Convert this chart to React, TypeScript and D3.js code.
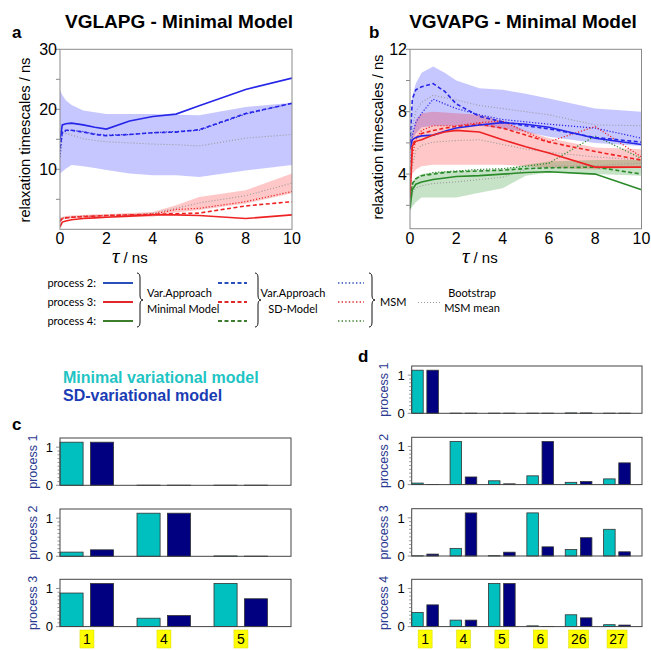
import React from "react";
import * as d3 from "d3";

const FONT = "'Liberation Sans', Arial, Helvetica, sans-serif";
const LEG_FONT = "Lato, 'Open Sans', sans-serif";

const TAU = [0, 0.1, 0.25, 0.5, 1, 1.5, 2, 3, 4, 5, 6, 8, 10];
const X_TICKS = [0, 2, 4, 6, 8, 10];

// Panel a — VGLAPG
const A_P2_VAR = [15.0, 17.4, 17.6, 17.7, 17.4, 17.0, 16.7, 18.05, 18.8, 19.2, 20.6, 23.3, 25.2];
const A_P2_SD = [13.5, 16.3, 16.5, 16.5, 16.2, 15.8, 15.6, 15.8, 16.1, 16.2, 16.6, 19.3, 21.0];
const A_P2_MSM = [12.0, 16.0, 16.4, 16.5, 16.3, 15.9, 15.7, 15.8, 16.1, 16.3, 16.5, 19.2, 21.0];
const A_P2_BOOT = [16.4, 16.2, 16.0, 15.7, 15.1, 14.8, 14.6, 14.4, 14.2, 14.1, 13.9, 15.2, 15.8];
const A_P2_HI = [23.2, 22.4, 21.5, 20.7, 19.8, 19.5, 19.2, 19.2, 19.2, 19.1, 19.0, 20.4, 21.1];
const A_P2_LO = [9.3, 9.6, 10.1, 10.7, 10.5, 10.2, 9.9, 9.3, 9.0, 9.0, 8.7, 9.8, 10.7];
const A_P3_VAR = [0.4, 1.2, 1.4, 1.6, 1.8, 1.9, 2.0, 2.2, 2.4, 2.4, 2.3, 1.8, 2.4];
const A_P3_SD = [1.3, 1.8, 1.9, 2.0, 2.1, 2.2, 2.3, 2.4, 2.5, 2.6, 2.7, 3.9, 4.6];
const A_P3_MSM = [1.5, 1.8, 1.9, 2.0, 2.2, 2.2, 2.3, 2.4, 2.5, 3.3, 3.5, 4.6, 6.3];
const A_P3_BOOT = [1.8, 1.9, 2.0, 2.1, 2.2, 2.2, 2.3, 2.4, 2.7, 3.5, 4.4, 5.6, 7.7];
const A_P3_HI = [2.0, 2.1, 2.2, 2.3, 2.4, 2.5, 2.5, 2.7, 2.9, 4.0, 5.4, 6.5, 9.3];
const A_P3_LO = [1.4, 1.6, 1.7, 1.8, 1.9, 1.9, 2.0, 2.0, 2.1, 2.8, 3.2, 4.3, 6.0];

// Panel b — VGVAPG
const B_P2_VAR = [5.6, 6.2, 6.35, 6.45, 6.5, 6.75, 6.95, 7.15, 7.3, 7.2, 7.0, 6.3, 5.9];
const B_P2_SD = [6.0, 8.8, 9.4, 9.6, 9.8, 9.3, 8.5, 7.7, 7.35, 7.1, 6.9, 6.35, 6.05];
const B_P2_MSM = [4.8, 6.5, 7.3, 7.9, 8.8, 8.5, 8.2, 7.8, 7.5, 7.35, 7.2, 6.95, 6.3];
const B_P2_BOOT = [5.5, 7.0, 8.0, 8.6, 9.05, 8.9, 8.75, 8.4, 8.2, 8.0, 7.8, 7.15, 7.1];
const B_P2_HI = [6.5, 9.0, 9.8, 10.5, 10.9, 10.5, 10.0, 9.5, 9.4, 9.15, 8.85, 8.2, 8.0];
const B_P2_LO = [5.8, 6.2, 6.6, 7.0, 7.1, 7.1, 7.1, 7.1, 6.9, 6.7, 6.4, 6.0, 5.8];
const B_P3_VAR = [2.5, 5.8, 6.1, 6.2, 6.5, 6.7, 6.8, 6.7, 6.2, 5.75, 5.35, 4.45, 4.45];
const B_P3_SD = [3.0, 5.8, 6.3, 6.6, 6.8, 6.95, 7.05, 7.2, 6.95, 6.5, 6.05, 5.45, 4.9];
const B_P3_MSM = [3.0, 5.2, 6.2, 6.8, 7.1, 7.1, 7.1, 7.3, 7.4, 6.7, 6.07, 7.05, 5.1];
const B_P3_BOOT = [3.0, 4.5, 5.5, 5.85, 6.05, 6.1, 6.15, 6.2, 5.9, 5.6, 5.4, 5.1, 4.9];
const B_P3_HI = [4.0, 6.5, 7.5, 7.9, 8.0, 7.95, 7.9, 7.8, 7.4, 6.8, 6.3, 5.7, 5.6];
const B_P3_LO = [3.0, 4.0, 4.3, 4.5, 4.6, 4.6, 4.6, 4.6, 4.6, 4.5, 4.4, 4.3, 4.4];
const B_P4_VAR = [1.8, 3.0, 3.35, 3.5, 3.65, 3.75, 3.85, 3.9, 4.0, 4.1, 4.15, 4.0, 3.0];
const B_P4_SD = [2.5, 3.4, 3.7, 3.9, 4.0, 4.1, 4.15, 4.2, 4.25, 4.35, 4.4, 4.45, 4.0];
const B_P4_MSM = [2.4, 3.3, 3.7, 3.9, 4.1, 4.15, 4.2, 4.3, 4.35, 4.5, 4.7, 6.45, 5.0];
const B_P4_BOOT = [2.3, 2.8, 3.1, 3.25, 3.4, 3.45, 3.5, 3.65, 3.8, 4.3, 4.5, 4.55, 4.7];
const B_P4_HI = [2.6, 3.5, 3.8, 4.0, 4.1, 4.15, 4.2, 4.25, 4.3, 4.6, 4.8, 4.9, 4.9];
const B_P4_LO = [1.6, 1.9, 2.2, 2.5, 2.5, 2.5, 2.5, 2.8, 3.1, 3.9, 4.1, 4.0, 3.9];

// Panel c — bars
const C_GROUPS = ["1", "4", "5"];
const C_P1_MIN = [1.13, 0.004, 0.004];
const C_P1_SD = [1.13, 0.004, 0.004];
const C_P2_MIN = [0.11, 1.13, 0.01];
const C_P2_SD = [0.17, 1.13, 0.005];
const C_P3_MIN = [0.88, 0.22, 1.13];
const C_P3_SD = [1.13, 0.29, 0.73];

// Panel d — bars
const D_GROUPS = ["1", "4", "5", "6", "26", "27"];
const D_P1_MIN = [1.13, 0.004, 0.004, 0.004, 0.01, 0.004];
const D_P1_SD = [1.13, 0.004, 0.004, 0.004, 0.01, 0.004];
const D_P2_MIN = [0.04, 1.13, 0.1, 0.23, 0.06, 0.15];
const D_P2_SD = [0.005, 0.2, 0.02, 1.13, 0.08, 0.57];
const D_P3_MIN = [0.005, 0.2, 0.01, 1.13, 0.17, 0.7];
const D_P3_SD = [0.05, 1.13, 0.1, 0.24, 0.48, 0.11];
const D_P4_MIN = [0.37, 0.17, 1.13, 0.02, 0.31, 0.05];
const D_P4_SD = [0.57, 0.17, 1.13, 0.005, 0.23, 0.04];

const BLUE = "#2626e8";
const RED = "#ee2222";
const GREEN = "#2a8a2a";
const GRAY = "#9a9a9a";
const LEG_BLUE = "#2850b8";
const LEG_RED = "#e02828";
const LEG_GREEN = "#3d7d2d";
const CYAN = "#00bfbf";
const NAVY = "#000080";
const PROC_COLOR = "#2b3990";

type Kind = "solid" | "dashed" | "dotted" | "boot";
const STYLES: Record<Kind, { w: number; dash?: string }> = {
  solid: { w: 1.6 },
  dashed: { w: 1.6, dash: "4,2.5" },
  dotted: { w: 1.2, dash: "1.2,1.8" },
  boot: { w: 1.1, dash: "1,2" },
};

type LineSpec = { v: number[]; color: string; kind: Kind };
type BandSpec = { hi: number[]; lo: number[]; color: string };

function LinePanel(props: {
  id: string;
  left: number; right: number; top: number; bottom: number;
  yDomain: [number, number];
  tickVals: number[]; labelVals: number[];
  bands: BandSpec[]; lines: LineSpec[];
  title: string; titleX: number; letter: string; letterX: number;
  ylabX: number; ylabY: number; xlabX: number;
}) {
  const { id, left, right, top, bottom, yDomain, tickVals, labelVals, bands, lines } = props;
  const x = d3.scaleLinear().domain([0, 10]).range([left, right]);
  const y = d3.scaleLinear().domain(yDomain).range([bottom, top]);
  const line = d3.line<number>().x((_, i) => x(TAU[i])).y((d) => y(d));
  const areaOf = (b: BandSpec) =>
    d3.area<number>().x((_, i) => x(TAU[i])).y0((_, i) => y(b.lo[i])).y1((d) => y(d))(b.hi) || "";
  const order: Kind[] = ["boot", "dotted", "dashed", "solid"];
  const sorted = [...lines].sort((a, b) => order.indexOf(a.kind) - order.indexOf(b.kind));
  return (
    <g>
      <defs>
        <clipPath id={id}>
          <rect x={left} y={top} width={right - left} height={bottom - top} />
        </clipPath>
      </defs>
      <text x={props.titleX} y={28} textAnchor="middle" fontFamily={FONT} fontWeight="bold" fontSize={19}>
        {props.title}
      </text>
      <text x={props.letterX} y={38} fontFamily={FONT} fontWeight="bold" fontSize={17}>
        {props.letter}
      </text>
      <g clipPath={`url(#${id})`}>
        {bands.map((b, i) => (
          <path key={i} d={areaOf(b)} fill={b.color} fillOpacity={0.22} stroke="none" />
        ))}
        {sorted.map((l, i) => (
          <path
            key={i}
            d={line(l.v) || ""}
            fill="none"
            stroke={l.kind === "boot" ? GRAY : l.color}
            strokeWidth={STYLES[l.kind].w}
            strokeDasharray={STYLES[l.kind].dash}
          />
        ))}
      </g>
      <rect x={left} y={top} width={right - left} height={bottom - top} fill="none" stroke="#8a8a8a" strokeWidth={1} />
      {tickVals.map((t) => (
        <line key={t} x1={left - 4} x2={left} y1={y(t)} y2={y(t)} stroke="#8a8a8a" strokeWidth={1} />
      ))}
      {labelVals.map((t) => (
        <text key={t} x={left - 3} y={y(t)} dy="0.36em" textAnchor="end" fontFamily={FONT} fontSize={16}>
          {t}
        </text>
      ))}
      {X_TICKS.map((t) => (
        <text key={t} x={x(t)} y={244} textAnchor="middle" fontFamily={FONT} fontSize={16}>
          {t}
        </text>
      ))}
      <text
        transform={`translate(${props.ylabX},${props.ylabY}) rotate(-90)`}
        textAnchor="middle"
        fontFamily={FONT}
        fontSize={14.7}
      >
        relaxation timescales / ns
      </text>
      <text x={props.xlabX} y={263} fontFamily={FONT} fontSize={15}>
        <tspan fontFamily="'Liberation Serif', 'DejaVu Serif', serif" fontStyle="italic" fontSize={21}>τ</tspan>
        <tspan dx={4}>/ ns</tspan>
      </text>
    </g>
  );
}

function Brace({ x, y0, y1, w }: { x: number; y0: number; y1: number; w: number }) {
  const ym = (y0 + y1) / 2;
  const xm = x + w / 2;
  const r = 5;
  const d = `M${x},${y0} Q${xm},${y0} ${xm},${y0 + r} L${xm},${ym - r} Q${xm},${ym} ${x + w},${ym} Q${xm},${ym} ${xm},${ym + r} L${xm},${y1 - r} Q${xm},${y1} ${x},${y1}`;
  return <path d={d} fill="none" stroke="#111" strokeWidth={1} />;
}

const LEG_ROWS = [
  { label: "process 2:", color: LEG_BLUE, y: 283 },
  { label: "process 3:", color: LEG_RED, y: 302 },
  { label: "process 4:", color: LEG_GREEN, y: 321 },
];

function Legend() {
  return (
    <g fontFamily={LEG_FONT} fontSize={11}>
      {LEG_ROWS.map((r) => (
        <g key={r.label}>
          <text x={96} y={r.y + 4} textAnchor="end">{r.label}</text>
          <line x1={103} x2={133} y1={r.y} y2={r.y} stroke={r.color} strokeWidth={2} />
          <line x1={218} x2={247} y1={r.y} y2={r.y} stroke={r.color} strokeWidth={1.8} strokeDasharray="4,2.5" />
          <line x1={338} x2={364} y1={r.y} y2={r.y} stroke={r.color} strokeWidth={1.4} strokeDasharray="1.4,2.2" />
        </g>
      ))}
      <Brace x={137} y0={273} y1={327} w={6} />
      <text x={147} y={297}>Var.Approach</text>
      <text x={147} y={313}>Minimal Model</text>
      <Brace x={255} y0={273} y1={327} w={6} />
      <text x={293} y={297} textAnchor="middle">Var.Approach</text>
      <text x={293} y={313} textAnchor="middle">SD-Model</text>
      <Brace x={369} y0={273} y1={327} w={6} />
      <text x={380} y={306}>MSM</text>
      <line x1={418} x2={440} y1={302.5} y2={302.5} stroke={GRAY} strokeWidth={1.2} strokeDasharray="1,2" />
      <text x={472} y={297} textAnchor="middle">Bootstrap</text>
      <text x={472} y={312} textAnchor="middle">MSM mean</text>
    </g>
  );
}

type BarRow = { name: string; min: number[]; sd: number[] };

function BarPanel(props: {
  left: number; right: number; tops: number[]; rowH: number;
  groups: string[]; rows: BarRow[]; procX: number; letter: string; letterX: number; letterY: number;
}) {
  const { left, right, tops, rowH, groups, rows } = props;
  const xb = d3.scaleBand<string>().domain(groups).range([left, right]).padding(0);
  const bw = xb.bandwidth();
  const minorTicks = d3.range(0, 1.0001, 0.1);
  return (
    <g>
      <text x={props.letterX} y={props.letterY} fontFamily={FONT} fontWeight="bold" fontSize={17}>
        {props.letter}
      </text>
      {rows.map((row, ri) => {
        const top = tops[ri];
        const bottom = top + rowH;
        const y = d3.scaleLinear().domain([0, 1.24]).range([bottom, top]);
        return (
          <g key={row.name}>
            {groups.map((g, gi) => (
              <g key={g}>
                <rect x={(xb(g) as number)} y={y(row.min[gi])} width={bw * 0.3} height={y(0) - y(row.min[gi])}
                  fill={CYAN} stroke="#333" strokeWidth={0.8} />
                <rect x={(xb(g) as number) + bw * 0.395} y={y(row.sd[gi])} width={bw * 0.3} height={y(0) - y(row.sd[gi])}
                  fill={NAVY} stroke="#333" strokeWidth={0.8} />
              </g>
            ))}
            <rect x={left} y={top} width={right - left} height={rowH} fill="none" stroke="#444" strokeWidth={1} />
            {minorTicks.map((t, i) => (
              <line key={i} x1={left - (i === 0 || i === 10 ? 4 : 2.5)} x2={left} y1={y(t)} y2={y(t)} stroke="#666" strokeWidth={0.7} />
            ))}
            {[0, 1].map((t) => (
              <text key={t} x={left - 7} y={y(t)} dy="0.36em" textAnchor="end" fontFamily={FONT} fontSize={13}>
                {t}
              </text>
            ))}
            <text transform={`translate(${props.procX},${(top + bottom) / 2}) rotate(-90)`} textAnchor="middle"
              fontFamily={FONT} fontSize={12.5} fill={PROC_COLOR}>
              {row.name}
            </text>
          </g>
        );
      })}
      {groups.map((g) => {
        const cx = (xb(g) as number) + bw * 0.35;
        const w = g.length > 1 ? 20 : 14;
        return (
          <g key={g}>
            <rect x={cx - w / 2} y={630} width={w} height={18} fill="#ffff00" stroke="#d8d800" strokeWidth={0.5} />
            <text x={cx} y={644} textAnchor="middle" fontFamily={FONT} fontSize={14}>{g}</text>
          </g>
        );
      })}
    </g>
  );
}

export default function App() {
  const aBands: BandSpec[] = [
    { hi: A_P2_HI, lo: A_P2_LO, color: "#0000ff" },
    { hi: A_P3_HI, lo: A_P3_LO, color: "#ff0000" },
  ];
  const aLines: LineSpec[] = [
    { v: A_P2_BOOT, color: BLUE, kind: "boot" },
    { v: A_P3_BOOT, color: RED, kind: "boot" },
    { v: A_P2_MSM, color: BLUE, kind: "dotted" },
    { v: A_P3_MSM, color: RED, kind: "dotted" },
    { v: A_P2_SD, color: BLUE, kind: "dashed" },
    { v: A_P3_SD, color: RED, kind: "dashed" },
    { v: A_P2_VAR, color: BLUE, kind: "solid" },
    { v: A_P3_VAR, color: RED, kind: "solid" },
  ];
  const bBands: BandSpec[] = [
    { hi: B_P2_HI, lo: B_P2_LO, color: "#0000ff" },
    { hi: B_P3_HI, lo: B_P3_LO, color: "#ff0000" },
    { hi: B_P4_HI, lo: B_P4_LO, color: "#008000" },
  ];
  const bLines: LineSpec[] = [
    { v: B_P2_BOOT, color: BLUE, kind: "boot" },
    { v: B_P3_BOOT, color: RED, kind: "boot" },
    { v: B_P4_BOOT, color: GREEN, kind: "boot" },
    { v: B_P2_MSM, color: BLUE, kind: "dotted" },
    { v: B_P3_MSM, color: RED, kind: "dotted" },
    { v: B_P4_MSM, color: GREEN, kind: "dotted" },
    { v: B_P2_SD, color: BLUE, kind: "dashed" },
    { v: B_P3_SD, color: RED, kind: "dashed" },
    { v: B_P4_SD, color: GREEN, kind: "dashed" },
    { v: B_P2_VAR, color: BLUE, kind: "solid" },
    { v: B_P3_VAR, color: RED, kind: "solid" },
    { v: B_P4_VAR, color: GREEN, kind: "solid" },
  ];
  const cRows: BarRow[] = [
    { name: "process 1", min: C_P1_MIN, sd: C_P1_SD },
    { name: "process 2", min: C_P2_MIN, sd: C_P2_SD },
    { name: "process 3", min: C_P3_MIN, sd: C_P3_SD },
  ];
  const dRows: BarRow[] = [
    { name: "process 1", min: D_P1_MIN, sd: D_P1_SD },
    { name: "process 2", min: D_P2_MIN, sd: D_P2_SD },
    { name: "process 3", min: D_P3_MIN, sd: D_P3_SD },
    { name: "process 4", min: D_P4_MIN, sd: D_P4_SD },
  ];
  return (
    <svg width={651} height={650} style={{ position: "absolute", left: 0, top: 0, background: "#fff" }}>
      <rect width={651} height={650} fill="#fff" />
      <LinePanel id="clipA" left={60} right={292} top={49.3} bottom={229.3} yDomain={[0, 30]}
        tickVals={[5, 10, 15, 20, 25, 30]} labelVals={[10, 20, 30]} bands={aBands} lines={aLines}
        title="VGLAPG - Minimal Model" titleX={179} letter="a" letterX={12} ylabX={29.5} ylabY={140} xlabX={112} />
      <LinePanel id="clipB" left={410} right={641.5} top={49.3} bottom={228.7} yDomain={[0.5, 12]}
        tickVals={[2, 4, 6, 8, 10, 12]} labelVals={[4, 8, 12]} bands={bBands} lines={bLines}
        title="VGVAPG - Minimal Model" titleX={523} letter="b" letterX={369} ylabX={383} ylabY={137} xlabX={462} />
      <Legend />
      <text x={63} y={383} fontFamily={FONT} fontWeight="bold" fontSize={16} fill="#1fc4c4">Minimal variational model</text>
      <text x={63} y={401} fontFamily={FONT} fontWeight="bold" fontSize={16} fill="#1a3cb4">SD-variational model</text>
      <BarPanel left={60} right={291} tops={[438, 509, 579.3]} rowH={47.3} groups={C_GROUPS} rows={cRows}
        procX={37} letter="c" letterX={12} letterY={430} />
      <BarPanel left={411.7} right={642} tops={[366, 437.3, 508.7, 579.3]} rowH={47.3} groups={D_GROUPS} rows={dRows}
        procX={388} letter="d" letterX={358} letterY={362} />
    </svg>
  );
}
